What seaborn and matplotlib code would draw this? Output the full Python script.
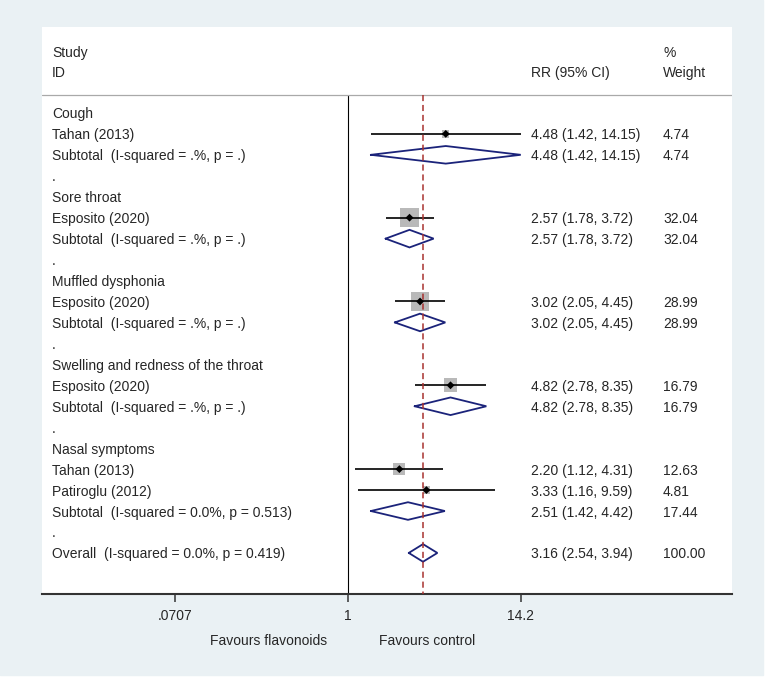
"""
Forest plot: flavonoids vs control, RR by symptom (Stata metan style).
"""
import numpy as np
import matplotlib.pyplot as plt
from matplotlib.patches import Rectangle
from matplotlib.ticker import NullLocator
import seaborn as sns
import pandas as pd

sns.set_style("white")
plt.rcParams['font.family'] = ['Liberation Sans', 'DejaVu Sans']
plt.rcParams['font.size'] = 10

# ---- data -------------------------------------------------------------
groups = ["Cough", "Sore throat", "Muffled dysphonia",
          "Swelling and redness of the throat", "Nasal symptoms"]

study_group = [0, 1, 2, 3, 4, 4]
study_names = ["Tahan (2013)", "Esposito (2020)", "Esposito (2020)",
               "Esposito (2020)", "Tahan (2013)", "Patiroglu (2012)"]
study_rr = [4.48, 2.57, 3.02, 4.82, 2.20, 3.33]
study_lo = [1.42, 1.78, 2.05, 2.78, 1.12, 1.16]
study_hi = [14.15, 3.72, 4.45, 8.35, 4.31, 9.59]
study_wt = [4.74, 32.04, 28.99, 16.79, 12.63, 4.81]

sub_labels = ["Subtotal  (I-squared = .%, p = .)"] * 4 + \
             ["Subtotal  (I-squared = 0.0%, p = 0.513)"]
sub_rr = [4.48, 2.57, 3.02, 4.82, 2.51]
sub_lo = [1.42, 1.78, 2.05, 2.78, 1.42]
sub_hi = [14.15, 3.72, 4.45, 8.35, 4.42]
sub_wt = [4.74, 32.04, 28.99, 16.79, 17.44]

overall_label = "Overall  (I-squared = 0.0%, p = 0.419)"
overall_rr, overall_lo, overall_hi, overall_wt = 3.16, 2.54, 3.94, 100.00

xticks = [0.0707, 1, 14.2]
xtick_labels = [".0707", "1", "14.2"]
favours = ["Favours flavonoids", "Favours control"]

# ---- build row table ----------------------------------------------------
rows = []
r = 0
for g, gname in enumerate(groups):
    rows.append(dict(label=gname, kind="group", row=r))
    r += 1
    for i, sg in enumerate(study_group):
        if sg == g:
            rows.append(dict(label=study_names[i], kind="study", row=r,
                             rr=study_rr[i], lo=study_lo[i], hi=study_hi[i],
                             wt=study_wt[i]))
            r += 1
    rows.append(dict(label=sub_labels[g], kind="pooled", row=r,
                     rr=sub_rr[g], lo=sub_lo[g], hi=sub_hi[g], wt=sub_wt[g]))
    r += 1
    rows.append(dict(label=".", kind="spacer", row=r))
    r += 1
rows.append(dict(label=overall_label, kind="pooled", row=r,
                 rr=overall_rr, lo=overall_lo, hi=overall_hi, wt=overall_wt))
df = pd.DataFrame(rows)

# ---- figure ------------------------------------------------------------
fig = plt.figure(figsize=(7.67, 6.8), dpi=100, facecolor="white")
fig.patches.append(Rectangle((0, 5 / 680), 763 / 767, 675 / 680,
                             transform=fig.transFigure, color="#eaf1f4",
                             zorder=-10))
ax = fig.add_axes([42 / 767, 1 - 594 / 680, 690 / 767, 567 / 680])
ax.set_facecolor("white")
ax.set_xscale("log")

y_bottom, y_top = 22.96, -4.1
header_y = -0.86
navy = "#1b237a"
red = "#a8312f"

studies = df[df.kind == "study"]
wmin, wmax = studies.wt.min(), studies.wt.max()
k = 5.85
sns.scatterplot(data=studies, x="rr", y="row", size="wt",
                sizes=(k * wmin, k * wmax), size_norm=(wmin, wmax),
                marker="s", color="#b9b9b9", edgecolor="none",
                legend=False, ax=ax, zorder=2)
ax.hlines(studies.row, studies.lo, studies.hi, color="black", lw=1.2,
          zorder=3)
sns.scatterplot(data=studies, x="rr", y="row", marker="D", s=16,
                color="black", edgecolor="none", legend=False, ax=ax,
                zorder=4)

pooled = df[df.kind == "pooled"]
h = 0.42
for _, p in pooled.iterrows():
    ax.plot([p.lo, p.rr, p.hi, p.rr, p.lo],
            [p.row, p.row - h, p.row, p.row + h, p.row],
            color=navy, lw=1.3, zorder=3, solid_joinstyle="miter")

ax.vlines(1, header_y, y_bottom, color="black", lw=0.8, zorder=1)
ax.vlines(overall_rr, header_y, y_bottom, color=red, lw=1.1,
          linestyles=(0, (4, 2.5)), zorder=5)
ax.axhline(header_y, color="#a9a9a9", lw=0.9)

# text columns
tr = ax.get_yaxis_transform()
xl, xe, xw = 0.0145, 0.7087, 0.9
for _, row in df.iterrows():
    ax.text(xl, row.row, row.label, transform=tr, va="center_baseline",
            ha="left")
    if row.kind in ("study", "pooled"):
        ax.text(xe, row.row,
                f"{row.rr:.2f} ({row.lo:.2f}, {row.hi:.2f})",
                transform=tr, va="center_baseline", ha="left")
        ax.text(xw, row.row, f"{row.wt:.2f}", transform=tr,
                va="center_baseline", ha="left")

ax.text(xl, -2.91, "Study", transform=tr, va="center_baseline")
ax.text(xl, -1.96, "ID", transform=tr, va="center_baseline")
ax.text(xe, -1.96, "RR (95% CI)", transform=tr, va="center_baseline")
ax.text(xw, -2.91, "%", transform=tr, va="center_baseline")
ax.text(xw, -1.96, "Weight", transform=tr, va="center_baseline")

ax.text(np.exp(-0.32), 25.15, favours[0], ha="right",
        va="center_baseline")
ax.text(np.exp(0.475), 25.15, favours[1], ha="left",
        va="center_baseline")

# axes styling
ax.set_xlim(np.exp(-4.693), np.exp(5.89))
ax.set_ylim(y_bottom, y_top)
ax.set_xticks(xticks)
ax.set_xticklabels(xtick_labels)
ax.xaxis.set_minor_locator(NullLocator())
ax.set_yticks([])
ax.set_xlabel("")
ax.set_ylabel("")
ax.tick_params(axis="x", direction="out", length=6, width=1.1,
               color="#333333", pad=5, labelsize=10, bottom=True)
for s in ["top", "left", "right"]:
    ax.spines[s].set_visible(False)
ax.spines["bottom"].set_color("#333333")
ax.spines["bottom"].set_linewidth(1.5)

fig.savefig("out.png", dpi=100)
